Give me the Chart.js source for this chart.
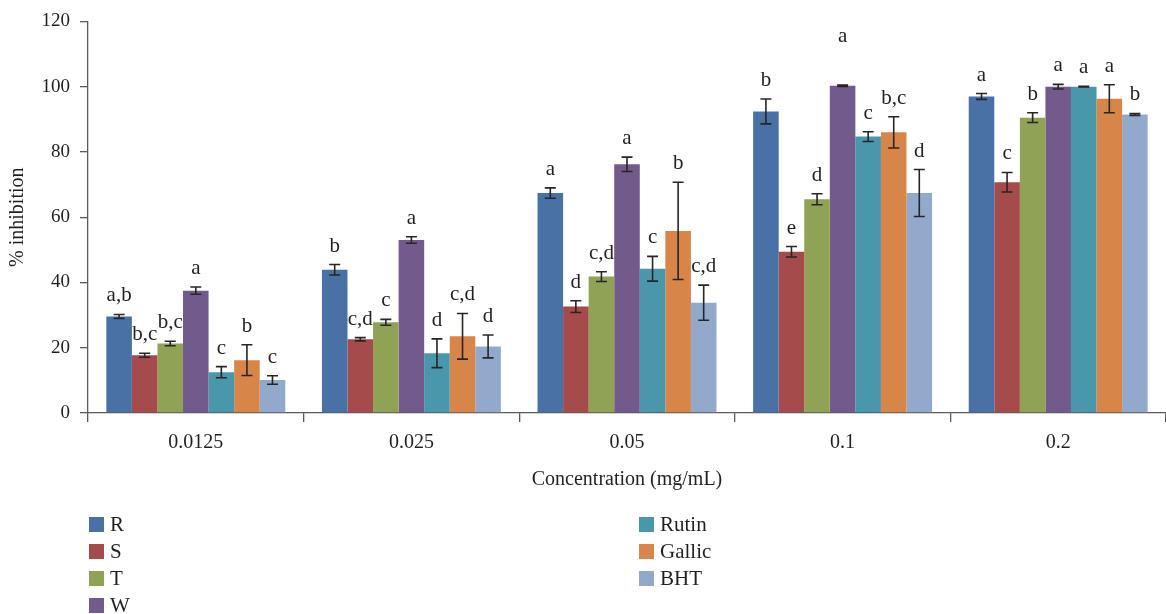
<!DOCTYPE html>
<html>
<head>
<meta charset="utf-8">
<script src="https://cdn.jsdelivr.net/npm/chart.js@4.4.1/dist/chart.umd.min.js"></script>
<style>
  html, body { margin: 0; padding: 0; background: #fff; }
  #wrap { position: relative; width: 1166px; height: 614px; }
  #legend { position: absolute; left: 0; top: 0; font-family: "Liberation Serif", serif; font-size: 21px; color: #231f20; }
  .item { position: absolute; height: 27px; line-height: 27px; white-space: nowrap; }
  .swatch { display: inline-block; width: 15px; height: 15px; vertical-align: middle; margin-right: 6px; position: relative; top: -2px; }
</style>
</head>
<body>
<div id="wrap">
  <canvas id="chart" width="1166" height="614"></canvas>
  <div id="legend"></div>
</div>
<script>
// Data
var concentrations = ['0.0125', '0.025', '0.05', '0.1', '0.2'];
var seriesNames = ['R', 'S', 'T', 'W', 'Rutin', 'Gallic', 'BHT'];
var seriesColors = ['#4a71a5', '#a64b4b', '#8fa256', '#725a8c', '#4a96aa', '#d8854a', '#93a9cb'];

var valuesR = [29.6, 43.9, 67.4, 92.4, 97.0];
var valuesS = [17.7, 22.6, 32.6, 49.4, 70.7];
var valuesT = [21.3, 27.8, 41.8, 65.5, 90.5];
var valuesW = [37.5, 53.0, 76.2, 100.3, 100.0];
var valuesRutin = [12.5, 18.3, 44.2, 84.7, 100.0];
var valuesGallic = [16.2, 23.5, 55.8, 86.0, 96.3];
var valuesBHT = [10.1, 20.4, 33.8, 67.4, 91.5];

var errR = [0.6, 1.6, 1.6, 3.8, 0.9];
var errS = [0.6, 0.5, 1.8, 1.6, 3.0];
var errT = [0.7, 0.9, 1.5, 1.7, 1.5];
var errW = [1.1, 1.0, 2.2, 0.2, 0.7];
var errRutin = [1.7, 4.4, 3.8, 1.5, 0.1];
var errGallic = [4.7, 7.0, 14.9, 4.8, 4.3];
var errBHT = [1.3, 3.5, 5.4, 7.2, 0.3];

var lettersR = ['a,b', 'b', 'a', 'b', 'a'];
var lettersS = ['b,c', 'c,d', 'd', 'e', 'c'];
var lettersT = ['b,c', 'c', 'c,d', 'd', 'b'];
var lettersW = ['a', 'a', 'a', 'a', 'a'];
var lettersRutin = ['c', 'd', 'c', 'c', 'a'];
var lettersGallic = ['b', 'c,d', 'b', 'b,c', 'a'];
var lettersBHT = ['c', 'd', 'c,d', 'd', 'b'];

var yTicks = [0, 20, 40, 60, 80, 100, 120];

var allValues = [valuesR, valuesS, valuesT, valuesW, valuesRutin, valuesGallic, valuesBHT];
var allErrors = [errR, errS, errT, errW, errRutin, errGallic, errBHT];
var allLetters = [lettersR, lettersS, lettersT, lettersW, lettersRutin, lettersGallic, lettersBHT];

var serif = '"Liberation Serif", "Times New Roman", serif';
var textColor = '#231f20';
var axisColor = '#5a5a5a';

// Error bars + significance letters
var errorBarPlugin = {
    id: 'errorBars',
    afterDatasetsDraw: function(chart, args, opts) {
        var ctx = chart.ctx;
        var yScale = chart.scales.y;
        ctx.save();
        chart.data.datasets.forEach(function(ds, di) {
            var meta = chart.getDatasetMeta(di);
            meta.data.forEach(function(bar, i) {
                var v = ds.data[i];
                var e = ds.errors[i];
                var top = yScale.getPixelForValue(v + e);
                var bot = yScale.getPixelForValue(v - e);
                ctx.strokeStyle = '#262626';
                ctx.lineWidth = 1.6;
                ctx.beginPath();
                ctx.moveTo(bar.x, top);
                ctx.lineTo(bar.x, bot);
                ctx.moveTo(bar.x - 5.5, top);
                ctx.lineTo(bar.x + 5.5, top);
                ctx.moveTo(bar.x - 5.5, bot);
                ctx.lineTo(bar.x + 5.5, bot);
                ctx.stroke();

                var lift = opts.lift[di + '-' + i] || 0;
                ctx.fillStyle = textColor;
                ctx.font = '21px ' + serif;
                ctx.textAlign = 'center';
                ctx.textBaseline = 'alphabetic';
                ctx.fillText(ds.letters[i], bar.x, top - 13 - lift);
            });
        });
        ctx.restore();
    }
};

var datasets = seriesNames.map(function(name, k) {
    return {
        label: name,
        data: allValues[k],
        errors: allErrors[k],
        letters: allLetters[k],
        backgroundColor: seriesColors[k],
        borderWidth: 0,
        categoryPercentage: 0.83,
        barPercentage: 1.0
    };
});

var chart = new Chart(document.getElementById('chart').getContext('2d'), {
    type: 'bar',
    data: { labels: concentrations, datasets: datasets },
    options: {
        responsive: false,
        animation: false,
        layout: { padding: { top: 19, left: 0, right: 0, bottom: 119 } },
        plugins: {
            legend: { display: false },
            tooltip: { enabled: false },
            errorBars: { lift: { '3-3': 30 } }
        },
        scales: {
            x: {
                grid: { display: true, drawOnChartArea: false, drawTicks: true, tickLength: 9, offset: true, color: axisColor, lineWidth: 1.3 },
                border: { display: true, color: axisColor, width: 1.3 },
                ticks: { color: textColor, font: { family: serif, size: 20 }, padding: 9 },
                title: { display: true, text: 'Concentration (mg/mL)', color: textColor, font: { family: serif, size: 20 }, padding: { top: 0, bottom: 3 } },
                afterFit: function(scale) { scale.height = 82; }
            },
            y: {
                min: 0,
                max: 120,
                afterBuildTicks: function(scale) {
                    scale.ticks = yTicks.map(function(v) { return { value: v }; });
                },
                grid: { display: true, drawOnChartArea: false, drawTicks: true, tickLength: 8, color: axisColor, lineWidth: 1.3 },
                border: { display: true, color: axisColor, width: 1.3 },
                ticks: { color: textColor, font: { family: serif, size: 19 }, padding: 10 },
                title: { display: true, text: '% inhibition', color: textColor, font: { family: serif, size: 20 }, padding: { top: 6, bottom: 0 } },
                afterFit: function(scale) { scale.width = 88; }
            }
        }
    },
    plugins: [errorBarPlugin]
});

// Legend in two columns, built from the series list
var legend = document.getElementById('legend');
seriesNames.forEach(function(name, k) {
    var col = k < 4 ? 0 : 1;
    var row = col === 0 ? k : k - 4;
    var item = document.createElement('div');
    item.className = 'item';
    item.style.left = (col === 0 ? 89 : 639) + 'px';
    item.style.top = (511 + row * 27) + 'px';
    var sw = document.createElement('span');
    sw.className = 'swatch';
    sw.style.background = seriesColors[k];
    item.appendChild(sw);
    item.appendChild(document.createTextNode(name));
    legend.appendChild(item);
});
</script>
</body>
</html>
